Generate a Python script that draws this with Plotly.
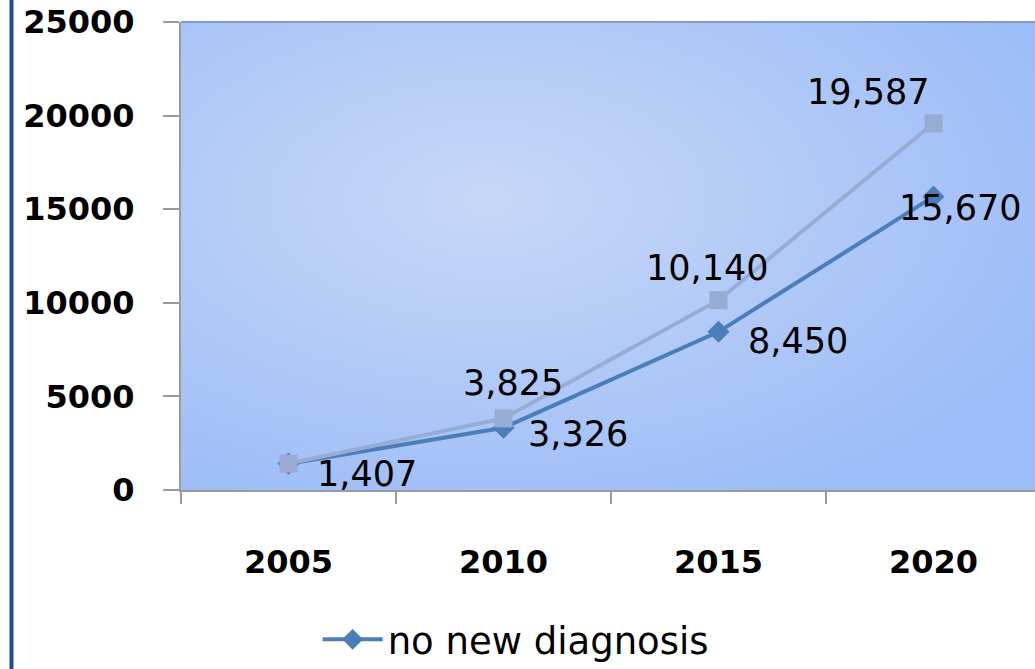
import base64
import plotly.graph_objects as go

years = ["2005", "2010", "2015", "2020"]
no_new_diagnosis = [1407, 3326, 8450, 15670]
second_series = [1407, 3825, 10140, 19587]
y_ticks = [0, 5000, 10000, 15000, 20000, 25000]

DARK = "#4a7ebb"
LIGHT = "#98abd2"
FONT = "DejaVu Sans"

svg = (
    "<svg xmlns='http://www.w3.org/2000/svg' width='854' height='468' preserveAspectRatio='none'>"
    "<defs><radialGradient id='g' cx='0.36' cy='0.38' r='0.72'>"
    "<stop offset='0' stop-color='#c6d8f7'/><stop offset='1' stop-color='#9dbcf7'/>"
    "</radialGradient></defs><rect width='100%' height='100%' fill='url(#g)'/></svg>"
)
bg_src = "data:image/svg+xml;base64," + base64.b64encode(svg.encode()).decode()

fig = go.Figure()
fig.add_trace(go.Scatter(
    x=years, y=no_new_diagnosis, mode="lines+markers", name="no new diagnosis",
    line=dict(color=DARK, width=4), marker=dict(symbol="diamond", size=17, color=DARK),
))
fig.add_trace(go.Scatter(
    x=years, y=second_series, mode="lines+markers", name="new diagnosis",
    line=dict(color=LIGHT, width=4), marker=dict(symbol="square", size=18, color=LIGHT),
    showlegend=False,
))

dark_offsets = [(78, -10), (74, -6), (79, -9), (26, -11)]
light_offsets = [None, (9, 35), (-12, 32), (-66, 31)]
for i, yr in enumerate(years):
    dx, dy = dark_offsets[i]
    fig.add_annotation(x=i, y=no_new_diagnosis[i], text=f"{no_new_diagnosis[i]:,}",
                       showarrow=False, xshift=dx, yshift=dy,
                       font=dict(family=FONT, size=35, color="black"))
    if light_offsets[i] is not None:
        dx, dy = light_offsets[i]
        fig.add_annotation(x=i, y=second_series[i], text=f"{second_series[i]:,}",
                           showarrow=False, xshift=dx, yshift=dy,
                           font=dict(family=FONT, size=35, color="black"))

fig.add_layout_image(dict(source=bg_src, xref="paper", yref="paper", x=0, y=1,
                          sizex=1, sizey=1, sizing="stretch", layer="below"))

# top border of plot area
fig.add_shape(type="line", xref="paper", yref="paper", x0=0, x1=1, y0=1, y1=1,
              line=dict(color="#7f9ccf", width=2))
# left dark blue frame line
fig.add_shape(type="line", xref="paper", yref="paper", x0=-0.1985, x1=-0.1985,
              y0=-0.4, y1=1.06, line=dict(color="#1f4e8c", width=4))

fig.update_layout(
    template="none",
    width=1035, height=669,
    margin=dict(l=181, r=0, t=22, b=179, autoexpand=False),
    paper_bgcolor="white", plot_bgcolor="rgba(0,0,0,0)",
    font=dict(family=FONT, color="black"),
    legend=dict(orientation="h", x=0.160, y=-0.32, xanchor="left", yanchor="middle",
                font=dict(family=FONT, size=37, color="black"), itemwidth=60,
                bgcolor="rgba(0,0,0,0)"),
    xaxis=dict(type="category", range=[-0.5, -0.5 + 854 / 215], tickson="boundaries",
               automargin=False,
               showline=True, linecolor="#9a9a9a", linewidth=2, ticks="outside",
               ticklen=12, tickwidth=2, tickcolor="#9a9a9a", showgrid=False,
               ticklabelstandoff=43, ticklabeloverflow="allow",
               tickfont=dict(family=FONT, size=32, color="black", weight="bold")),
    yaxis=dict(range=[0, 25000], tickvals=y_ticks, ticktext=[str(v) for v in y_ticks],
               automargin=False,
               showline=True, linecolor="#9a9a9a", linewidth=2, ticks="outside",
               ticklen=16, tickwidth=2, tickcolor="#9a9a9a", showgrid=False,
               zeroline=False, ticklabelstandoff=22, ticklabeloverflow="allow",
               tickfont=dict(family=FONT, size=32, color="black", weight="bold")),
)

fig.write_html("out.html", config={"displayModeBar": False},
               post_script="document.body.style.margin='0';")
